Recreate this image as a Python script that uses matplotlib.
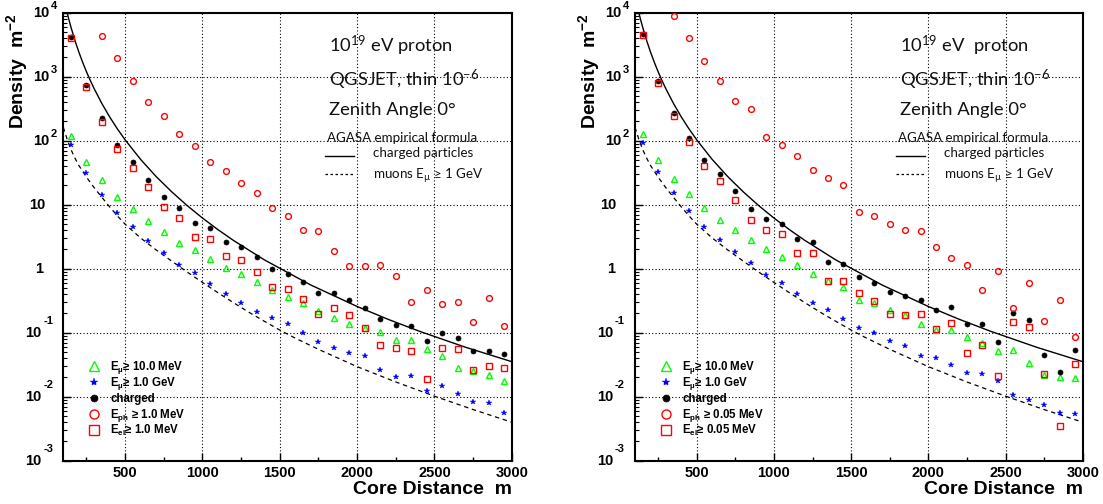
import numpy as np
import matplotlib
matplotlib.use('Agg')
import matplotlib.pyplot as plt
from matplotlib.ticker import FixedLocator, NullFormatter

plt.rcParams['mathtext.fontset'] = 'custom'
plt.rcParams['mathtext.rm'] = 'Liberation Sans'
plt.rcParams['mathtext.bf'] = 'Liberation Sans:bold'
plt.rcParams['mathtext.it'] = 'Liberation Sans:italic'
plt.rcParams['mathtext.sf'] = 'Lato'

# ---------------- data ----------------
core_distance = [150, 250, 350, 450, 550, 650, 750, 850, 950, 1050, 1150, 1250, 1350, 1450,
                 1550, 1650, 1750, 1850, 1950, 2050, 2150, 2250, 2350, 2450, 2550, 2650,
                 2750, 2850, 2950]

# left panel (thresholds 1.0 MeV)
left_mu10 = [119, 46, 24, 13.3, 8.5, 5.5, 3.74, 2.55, 1.94, 1.44, 1.01, 0.83, 0.61, 0.47,
             0.36, 0.29, 0.22, 0.168, 0.139, 0.119, 0.102, 0.076, 0.077, 0.055, 0.043, 0.028,
             0.025, 0.022, 0.0173]
left_mu1000 = [86, 31, 14.3, 7.5, 4.5, 2.71, 1.78, 1.13, 0.85, 0.58, 0.40, 0.29, 0.209, 0.168,
               0.136, 0.099, 0.072, 0.057, 0.048, 0.043, 0.026, 0.0205, 0.021, 0.0122, 0.0146,
               0.0111, 0.0083, 0.0079, 0.0056]
left_charged = [4120, 745, 225, 86, 46, 24.5, 13.2, 8.9, 5.1, 4.4, 2.6, 2.2, 1.52, 1.0,
                0.84, 0.63, 0.42, 0.41, 0.33, 0.24, 0.166, 0.134, 0.128, 0.074, 0.099, 0.083,
                0.051, 0.052, 0.046]
left_ph = [np.nan, np.nan, 4380, 1940, 860, 409, 241, 128, 83, 47, 34, 21.5, 15, 8.75,
           6.6, 4.06, 3.87, 1.87, 1.12, 1.12, 1.13, 0.78, 0.30, 0.46, 0.285, 0.30,
           0.149, 0.345, 0.129]
left_el = [4030, 692, 197, 73, 37, 19, 9.3, 6.3, 3.16, 2.9, 1.58, 1.38, 0.90, 0.52,
           0.48, 0.34, 0.199, 0.24, 0.19, 0.119, 0.064, 0.057, 0.051, 0.0186, 0.057, 0.055,
           0.026, 0.030, 0.028]

# right panel (thresholds 0.05 MeV)
right_mu10 = [129, 50, 25.4, 14.5, 8.76, 5.8, 4.07, 2.8, 2.0, 1.5, 1.16, 0.82, 0.64, 0.51,
              0.33, 0.29, 0.23, 0.188, 0.137, 0.112, 0.109, 0.085, 0.070, 0.051, 0.053, 0.034,
              0.0217, 0.020, 0.0197]
right_mu1000 = [93, 32, 15, 7.85, 4.5, 2.77, 1.80, 1.21, 0.81, 0.60, 0.40, 0.296, 0.224, 0.164,
                0.12, 0.10, 0.075, 0.063, 0.0425, 0.040, 0.031, 0.0236, 0.0225, 0.0173, 0.0107,
                0.0088, 0.0074, 0.0056, 0.0053]
right_charged = [4590, 860, 269, 112, 49.7, 30, 16.1, 8.65, 6.0, 5.05, 2.94, 2.61, 1.29, 1.17,
                 0.75, 0.60, 0.43, 0.38, 0.33, 0.224, 0.256, 0.136, 0.137, 0.072, 0.204, 0.158,
                 0.0446, 0.0239, 0.053]
right_ph = [np.nan, np.nan, 8980, 3980, 1760, 849, 419, 310, 116, 85, 58, 34.7, 26, 20.2,
            7.6, 6.7, 5.05, 4.02, 3.93, 2.16, 1.47, 1.14, 0.47, 0.91, 0.247, 0.60,
            0.153, 0.32, 0.087]
right_el = [4490, 800, 244, 96, 40.5, 23.7, 11.9, 5.8, 4.07, 3.53, 1.76, 1.76, 0.65, 0.65,
            0.41, 0.31, 0.199, 0.192, 0.195, 0.116, 0.144, 0.048, 0.0646, 0.021, 0.149, 0.123,
            0.0225, 0.0035, 0.032]

# AGASA empirical formula curves
charged_curve_r = [110, 120, 125, 135, 150, 175, 200, 225, 250, 275, 300, 350, 400, 450, 500,
                   600, 700, 800, 900, 1000, 1100, 1200, 1400, 1700, 2000, 2200, 2400, 2700, 3000]
charged_curve = [14200, 11100, 9950, 7990, 5890, 3700, 2450, 1682, 1193, 868, 647, 379, 235,
                 152.6, 103, 51, 27.6, 16.0, 9.73, 6.19, 4.08, 2.77, 1.375, 0.557, 0.257,
                 0.162, 0.106, 0.0594, 0.0353]
muon_curve_r = [100, 125, 150, 175, 200, 250, 300, 350, 400, 450, 500, 600, 700, 800, 900,
                1000, 1100, 1200, 1300, 1400, 1500, 1600, 1750, 2000, 2250, 2500, 2750, 3000]
muon_curve = [162, 105, 72.4, 53.7, 41.2, 26.9, 18.4, 13.0, 9.23, 6.68, 4.95, 3.02, 1.97,
              1.32, 0.891, 0.610, 0.422, 0.295, 0.209, 0.151, 0.110, 0.0822, 0.0550, 0.0295,
              0.0170, 0.0102, 0.0063, 0.0040]

x_ticks = [500, 1000, 1500, 2000, 2500, 3000]
x_minor = [250, 750, 1250, 1750, 2250, 2750]
y_decades = [-3, -2, -1, 0, 1, 2, 3, 4]

GREEN = '#00ff00'
BLUE = '#0000ff'
RED = '#ff0000'
BOLD = ['Liberation Sans', 'DejaVu Sans']
THIN = ['Lato', 'DejaVu Sans']

styles = {
    'mu10': dict(marker='^', mfc='none', mec=GREEN, mew=1.0, ls='none'),
    'mu1000': dict(marker='*', mfc=BLUE, mec=BLUE, mew=0.3, ls='none'),
    'charged': dict(marker='o', mfc='k', mec='k', mew=0.5, ls='none'),
    'ph': dict(marker='o', mfc='none', mec=RED, mew=1.0, ls='none'),
    'el': dict(marker='s', mfc='none', mec=RED, mew=1.0, ls='none'),
}
data_ms = {'mu10': 4.8, 'mu1000': 4.0, 'charged': 3.6, 'ph': 4.2, 'el': 4.0}
leg_ms = {'mu10': 7.5, 'mu1000': 6.0, 'charged': 5.0, 'ph': 6.5, 'el': 6.5}

fig = plt.figure(figsize=(11.03, 5.04), dpi=100)
W, H = 1103.0, 504.0


def px(v):
    return v * 72.0 / 100.0


def panel(ax, series, ph_lab, el_lab, title1):
    ax.set_yscale('log')
    ax.set_xlim(100, 3000)
    ax.set_ylim(1e-3, 1e4)
    for s in ax.spines.values():
        s.set_linewidth(1.5)
    ax.xaxis.set_major_locator(FixedLocator(x_ticks))
    ax.xaxis.set_minor_locator(FixedLocator(x_minor))
    ax.yaxis.set_major_locator(FixedLocator([10.0 ** k for k in y_decades]))
    ax.yaxis.set_minor_locator(FixedLocator([m * 10.0 ** k for k in y_decades[:-1] for m in range(2, 10)]))
    ax.yaxis.set_major_formatter(NullFormatter())
    ax.yaxis.set_minor_formatter(NullFormatter())
    ax.set_xticklabels([str(v) for v in x_ticks], fontsize=10.5, fontweight='bold', family=BOLD)
    ax.tick_params(which='both', direction='in', top=False, right=False)
    ax.tick_params(axis='x', which='major', length=5.5, width=1.0, pad=3.5)
    ax.tick_params(axis='x', which='minor', length=3, width=1.0)
    ax.tick_params(axis='y', which='major', length=5.5, width=1.0)
    ax.tick_params(axis='y', which='minor', length=3, width=0.8)
    ax.grid(which='major', color='k', lw=0.8, ls=(0, (1, 2)))

    # y tick labels, ROOT style
    for k in y_decades:
        y = 10.0 ** k
        if k == 0:
            ax.annotate('1', xy=(0, y), xycoords=('axes fraction', 'data'), xytext=(px(-20.3), 0),
                        textcoords='offset points', ha='right', va='center', fontsize=10.5,
                        fontweight='bold', family=BOLD)
        elif k == 1:
            ax.annotate('10', xy=(0, y), xycoords=('axes fraction', 'data'), xytext=(px(-18.3), 0),
                        textcoords='offset points', ha='right', va='center', fontsize=10.5,
                        fontweight='bold', family=BOLD)
        else:
            if k > 0:
                xb, xe, raise_ = -14.0, -12.6, 6.5
            else:
                xb, xe, raise_ = -21.6, -20.0, 11.5
            ax.annotate('10', xy=(0, y), xycoords=('axes fraction', 'data'), xytext=(px(xb), 0),
                        textcoords='offset points', ha='right', va='center', fontsize=10.5,
                        fontweight='bold', family=BOLD)
            ax.annotate(str(k), xy=(0, y), xycoords=('axes fraction', 'data'),
                        xytext=(px(xe), px(raise_)), textcoords='offset points', ha='left',
                        va='center', fontsize=8, fontweight='bold', family=BOLD)

    # curves
    ax.plot(charged_curve_r, charged_curve, color='k', lw=1.0, zorder=3)
    ax.plot(muon_curve_r, muon_curve, color='k', lw=0.9, ls=(0, (3.5, 3)), zorder=3)

    for key in ['mu10', 'mu1000', 'charged', 'ph', 'el']:
        ax.plot(core_distance, series[key], ms=data_ms[key], zorder=4, **styles[key])

    # legend (bottom-left)
    labels = {
        'mu10': r'$\mathbf{E}_{\mathbf{µ}}$≥ 10.0 MeV',
        'mu1000': r'$\mathbf{E}_{\mathbf{µ}}$≥ 1.0 GeV',
        'charged': 'charged',
        'ph': ph_lab,
        'el': el_lab,
    }
    rows = [0.2114, 0.1757, 0.1400, 0.1049, 0.0685]
    for yy, key in zip(rows, ['mu10', 'mu1000', 'charged', 'ph', 'el']):
        ax.plot([0.069], [yy], transform=ax.transAxes, clip_on=False, ms=leg_ms[key],
                zorder=5, **styles[key])
        ax.text(0.105, yy - 0.009, labels[key], transform=ax.transAxes, ha='left', va='baseline',
                fontsize=8.3, fontweight='bold', family=BOLD, zorder=5)

    # annotation text (upper right)
    x0 = 0.592
    tk = dict(transform=ax.transAxes, family=THIN, fontweight='normal', va='baseline', color='#111111')
    ax.text(x0, 0.913, title1, fontsize=13.2, **tk)
    ax.text(x0, 0.837, r'QGSJET, thin $\mathsf{10^{-6}}$', fontsize=13.2, **tk)
    ax.text(x0, 0.772, 'Zenith Angle 0°', fontsize=13.2, **tk)
    ax.text(x0 - 0.005, 0.712, 'AGASA empirical formula', fontsize=9.6, **tk)
    ax.text(0.690, 0.677, 'charged particles', fontsize=9.6, **tk)
    ax.text(0.690, 0.630, r'muons $\mathsf{E_{µ}}$ ≥ 1 GeV', fontsize=9.6, **tk)
    ax.plot([0.584, 0.648], [0.681, 0.681], transform=ax.transAxes, color='k', lw=1.0)
    ax.plot([0.584, 0.648], [0.641, 0.641], transform=ax.transAxes, color='k', lw=0.9,
            ls=(0, (2, 2)))

    # axis titles
    ax.text(1.0, -0.0654, 'Core Distance  m', transform=ax.transAxes, ha='right', va='center',
            fontsize=14, fontweight='bold', family=BOLD)
    ax.text(-46.0 / 448.4, 0.999, r'Density  m$^{\mathbf{-2}}$', transform=ax.transAxes,
            rotation=90, ha='center', va='top', fontsize=14, fontweight='bold', family=BOLD)


axL = fig.add_axes([63.3 / W, (H - 460.7) / H, 448.4 / W, 448.0 / H])
axR = fig.add_axes([635.0 / W, (H - 460.7) / H, 447.7 / W, 448.0 / H])

panel(axL, {'mu10': left_mu10, 'mu1000': left_mu1000, 'charged': left_charged,
            'ph': left_ph, 'el': left_el},
      r'$\mathbf{E}_{\mathbf{ph}}$ ≥ 1.0 MeV', r'$\mathbf{E}_{\mathbf{el}}$≥ 1.0 MeV',
      r'$\mathsf{10^{19}}$ eV proton')
panel(axR, {'mu10': right_mu10, 'mu1000': right_mu1000, 'charged': right_charged,
            'ph': right_ph, 'el': right_el},
      r'$\mathbf{E}_{\mathbf{ph}}$ ≥ 0.05 MeV', r'$\mathbf{E}_{\mathbf{el}}$≥ 0.05 MeV',
      r'$\mathsf{10^{19}}$ eV  proton')

fig.savefig('out.png', dpi=100)
